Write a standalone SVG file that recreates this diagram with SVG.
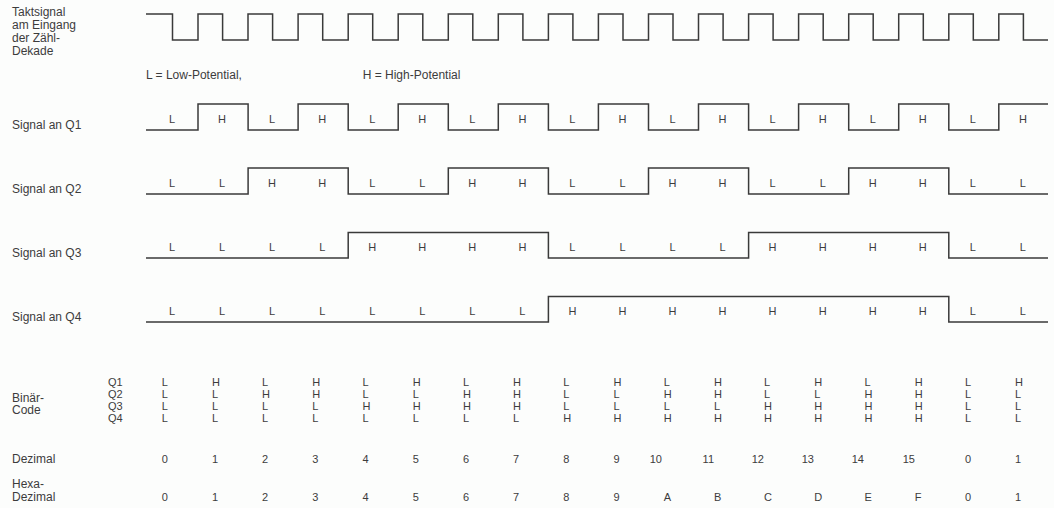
<svg xmlns="http://www.w3.org/2000/svg" width="1054" height="508" viewBox="0 0 1054 508">
<style>
.bg{fill:#fcfdfc}
.w{fill:none;stroke:#3a3a3a;stroke-width:1.5;stroke-linejoin:miter}
text{font-family:"Liberation Sans",Arial,sans-serif;fill:#3c3c3c}
.lb{font-size:12px}
.s{font-size:11px;text-anchor:middle}
.b{font-size:11px}
.e{font-size:11px;text-anchor:end}
</style>
<rect class="bg" x="0" y="0" width="1054" height="508"/>
<g id="labels-left" class="lb">
<text x="12" y="16">Taktsignal</text>
<text x="12" y="29">am Eingang</text>
<text x="12" y="42">der Zähl-</text>
<text x="12" y="55">Dekade</text>
<text x="146" y="79">L = Low-Potential,</text>
<text x="362.7" y="79">H = High-Potential</text>
<text x="12" y="129">Signal an Q1</text>
<text x="12" y="193">Signal an Q2</text>
<text x="12" y="257">Signal an Q3</text>
<text x="12" y="321">Signal an Q4</text>
<text x="12" y="402">Binär-</text>
<text x="12" y="414">Code</text>
<text x="12" y="463">Dezimal</text>
<text x="12" y="488">Hexa-</text>
<text x="12" y="501">Dezimal</text>
</g>
<g id="waveforms">
<path id="clock" class="w" d="M146,14 H172.5 V40 H198 V14 H222.6 V40 H248 V14 H272.6 V40 H298.1 V14 H322.7 V40 H348.2 V14 H372.7 V40 H398.2 V14 H422.8 V40 H448.3 V14 H472.8 V40 H498.3 V14 H522.9 V40 H548.4 V14 H572.9 V40 H598.4 V14 H623 V40 H648.5 V14 H673 V40 H698.5 V14 H723.1 V40 H748.6 V14 H773.1 V40 H798.6 V14 H823.2 V40 H848.7 V14 H873.2 V40 H898.7 V14 H923.3 V40 H948.8 V14 H973.3 V40 H998.8 V14 H1023.4 V40 H1048"/>
<path id="q1" class="w" d="M146,130 H198 V104 H248.1 V130 H298.1 V104 H348.2 V130 H398.2 V104 H448.3 V130 H498.3 V104 H548.4 V130 H598.4 V104 H648.5 V130 H698.5 V104 H748.6 V130 H798.6 V104 H848.7 V130 H898.7 V104 H948.8 V130 H998.8 V104 H1048"/>
<path id="q2" class="w" d="M146,194 H248.1 V168 H348.2 V194 H448.3 V168 H548.4 V194 H648.5 V168 H748.6 V194 H848.7 V168 H948.8 V194 H1048"/>
<path id="q3" class="w" d="M146,258 H348.2 V232.5 H548.4 V258 H748.6 V232.5 H948.8 V258 H1048"/>
<path id="q4" class="w" d="M146,322 H548.4 V296.5 H948.8 V322 H1048"/>
</g>
<g id="q1-states" class="s">
<text x="172" y="123">L</text><text x="222.1" y="123">H</text><text x="272.1" y="123">L</text><text x="322.2" y="123">H</text><text x="372.2" y="123">L</text><text x="422.3" y="123">H</text><text x="472.3" y="123">L</text><text x="522.4" y="123">H</text><text x="572.4" y="123">L</text><text x="622.5" y="123">H</text><text x="672.5" y="123">L</text><text x="722.6" y="123">H</text><text x="772.6" y="123">L</text><text x="822.7" y="123">H</text><text x="872.7" y="123">L</text><text x="922.8" y="123">H</text><text x="972.8" y="123">L</text><text x="1022.9" y="123">H</text>
</g>
<g id="q2-states" class="s">
<text x="172" y="187">L</text><text x="222.1" y="187">L</text><text x="272.1" y="187">H</text><text x="322.2" y="187">H</text><text x="372.2" y="187">L</text><text x="422.3" y="187">L</text><text x="472.3" y="187">H</text><text x="522.4" y="187">H</text><text x="572.4" y="187">L</text><text x="622.5" y="187">L</text><text x="672.5" y="187">H</text><text x="722.6" y="187">H</text><text x="772.6" y="187">L</text><text x="822.7" y="187">L</text><text x="872.7" y="187">H</text><text x="922.8" y="187">H</text><text x="972.8" y="187">L</text><text x="1022.9" y="187">L</text>
</g>
<g id="q3-states" class="s">
<text x="172" y="251">L</text><text x="222.1" y="251">L</text><text x="272.1" y="251">L</text><text x="322.2" y="251">L</text><text x="372.2" y="251">H</text><text x="422.3" y="251">H</text><text x="472.3" y="251">H</text><text x="522.4" y="251">H</text><text x="572.4" y="251">L</text><text x="622.5" y="251">L</text><text x="672.5" y="251">L</text><text x="722.6" y="251">L</text><text x="772.6" y="251">H</text><text x="822.7" y="251">H</text><text x="872.7" y="251">H</text><text x="922.8" y="251">H</text><text x="972.8" y="251">L</text><text x="1022.9" y="251">L</text>
</g>
<g id="q4-states" class="s">
<text x="172" y="315">L</text><text x="222.1" y="315">L</text><text x="272.1" y="315">L</text><text x="322.2" y="315">L</text><text x="372.2" y="315">L</text><text x="422.3" y="315">L</text><text x="472.3" y="315">L</text><text x="522.4" y="315">L</text><text x="572.4" y="315">H</text><text x="622.5" y="315">H</text><text x="672.5" y="315">H</text><text x="722.6" y="315">H</text><text x="772.6" y="315">H</text><text x="822.7" y="315">H</text><text x="872.7" y="315">H</text><text x="922.8" y="315">H</text><text x="972.8" y="315">L</text><text x="1022.9" y="315">L</text>
</g>
<g id="binary-names" class="b">
<text x="108" y="385.5">Q1</text><text x="108" y="397.5">Q2</text><text x="108" y="409.5">Q3</text><text x="108" y="422">Q4</text>
</g>
<g id="binary-q1" class="b">
<text x="161.7" y="385.5">L</text><text x="211.9" y="385.5">H</text><text x="262.1" y="385.5">L</text><text x="312.3" y="385.5">H</text><text x="362.5" y="385.5">L</text><text x="412.7" y="385.5">H</text><text x="462.9" y="385.5">L</text><text x="513.1" y="385.5">H</text><text x="563.3" y="385.5">L</text><text x="613.5" y="385.5">H</text><text x="663.7" y="385.5">L</text><text x="713.9" y="385.5">H</text><text x="764.1" y="385.5">L</text><text x="814.3" y="385.5">H</text><text x="864.5" y="385.5">L</text><text x="914.7" y="385.5">H</text><text x="964.9" y="385.5">L</text><text x="1015.1" y="385.5">H</text>
</g>
<g id="binary-q2" class="b">
<text x="161.7" y="397.5">L</text><text x="211.9" y="397.5">L</text><text x="262.1" y="397.5">H</text><text x="312.3" y="397.5">H</text><text x="362.5" y="397.5">L</text><text x="412.7" y="397.5">L</text><text x="462.9" y="397.5">H</text><text x="513.1" y="397.5">H</text><text x="563.3" y="397.5">L</text><text x="613.5" y="397.5">L</text><text x="663.7" y="397.5">H</text><text x="713.9" y="397.5">H</text><text x="764.1" y="397.5">L</text><text x="814.3" y="397.5">L</text><text x="864.5" y="397.5">H</text><text x="914.7" y="397.5">H</text><text x="964.9" y="397.5">L</text><text x="1015.1" y="397.5">L</text>
</g>
<g id="binary-q3" class="b">
<text x="161.7" y="409.5">L</text><text x="211.9" y="409.5">L</text><text x="262.1" y="409.5">L</text><text x="312.3" y="409.5">L</text><text x="362.5" y="409.5">H</text><text x="412.7" y="409.5">H</text><text x="462.9" y="409.5">H</text><text x="513.1" y="409.5">H</text><text x="563.3" y="409.5">L</text><text x="613.5" y="409.5">L</text><text x="663.7" y="409.5">L</text><text x="713.9" y="409.5">L</text><text x="764.1" y="409.5">H</text><text x="814.3" y="409.5">H</text><text x="864.5" y="409.5">H</text><text x="914.7" y="409.5">H</text><text x="964.9" y="409.5">L</text><text x="1015.1" y="409.5">L</text>
</g>
<g id="binary-q4" class="b">
<text x="161.7" y="422">L</text><text x="211.9" y="422">L</text><text x="262.1" y="422">L</text><text x="312.3" y="422">L</text><text x="362.5" y="422">L</text><text x="412.7" y="422">L</text><text x="462.9" y="422">L</text><text x="513.1" y="422">L</text><text x="563.3" y="422">H</text><text x="613.5" y="422">H</text><text x="663.7" y="422">H</text><text x="713.9" y="422">H</text><text x="764.1" y="422">H</text><text x="814.3" y="422">H</text><text x="864.5" y="422">H</text><text x="914.7" y="422">H</text><text x="964.9" y="422">L</text><text x="1015.1" y="422">L</text>
</g>
<g id="decimal">
<text class="b" x="161.7" y="463">0</text><text class="b" x="211.9" y="463">1</text><text class="b" x="262.1" y="463">2</text><text class="b" x="312.3" y="463">3</text><text class="b" x="362.5" y="463">4</text><text class="b" x="412.7" y="463">5</text><text class="b" x="462.9" y="463">6</text><text class="b" x="513.1" y="463">7</text><text class="b" x="563.3" y="463">8</text><text class="b" x="613.5" y="463">9</text><text class="e" x="662" y="463">10</text><text class="e" x="714" y="463">11</text><text class="e" x="764" y="463">12</text><text class="e" x="814" y="463">13</text><text class="e" x="864" y="463">14</text><text class="e" x="915" y="463">15</text><text class="b" x="964.9" y="463">0</text><text class="b" x="1015.1" y="463">1</text>
</g>
<g id="hexadecimal" class="b">
<text x="161.7" y="501">0</text><text x="211.9" y="501">1</text><text x="262.1" y="501">2</text><text x="312.3" y="501">3</text><text x="362.5" y="501">4</text><text x="412.7" y="501">5</text><text x="462.9" y="501">6</text><text x="513.1" y="501">7</text><text x="563.3" y="501">8</text><text x="613.5" y="501">9</text><text x="663.7" y="501">A</text><text x="713.9" y="501">B</text><text x="764.1" y="501">C</text><text x="814.3" y="501">D</text><text x="864.5" y="501">E</text><text x="914.7" y="501">F</text><text x="964.9" y="501">0</text><text x="1015.1" y="501">1</text>
</g>
</svg>
